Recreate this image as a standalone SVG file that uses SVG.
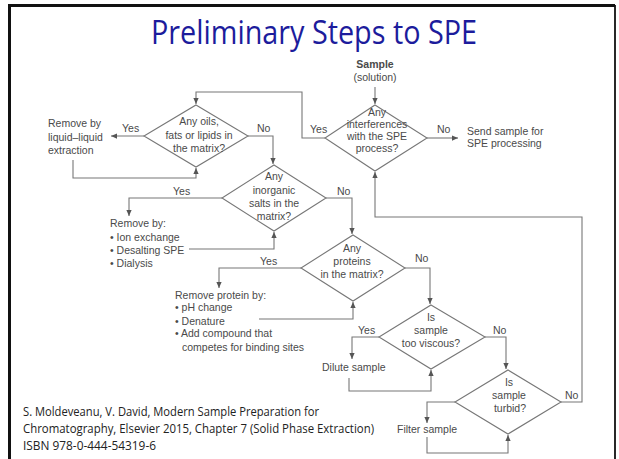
<svg xmlns="http://www.w3.org/2000/svg" width="619" height="459" viewBox="0 0 619 459">
<defs>
<marker id="ah" viewBox="0 0 8 8" refX="8" refY="4" markerWidth="6" markerHeight="6" markerUnits="userSpaceOnUse" orient="auto">
<path d="M0,0.5 L8,4 L0,7.5 z" fill="#555"/>
</marker>
<style>
.d{fill:none;stroke:#777;stroke-width:1.1}
.c{fill:none;stroke:#777;stroke-width:1.1;marker-end:url(#ah)}
.t{font-family:"Liberation Sans",Arial,sans-serif;font-size:10.5px;fill:#4a4a4a}
.m{text-anchor:middle}
.b{font-weight:bold}
.cit{font-family:"Open Sans","Liberation Sans",sans-serif;font-size:12.5px;fill:#222}
</style>
</defs>
<rect width="619" height="459" fill="#fff"/>
<g id="frame" fill="none" stroke="#111">
<path d="M9.5,459 V5.5 H615" stroke-width="3"/>
<path d="M615,5 V459" stroke-width="1.8"/>
</g>
<text id="title" x="314" y="44" text-anchor="middle" font-family="Open Sans, Liberation Sans, sans-serif" font-size="33" fill="#1c1c9c" textLength="326" lengthAdjust="spacingAndGlyphs">Preliminary Steps to SPE</text>

<g id="connectors">
<path class="c" d="M375,87 V104"/>
<path class="c" d="M427,138 H458"/>
<path class="c" d="M325,138 H302 V92 H196 V104"/>
<path class="c" d="M144,136 H111"/>
<path class="c" d="M73,160 V178 H196 V168"/>
<path class="c" d="M248,136 H273 V164"/>
<path class="c" d="M222,198 H129 V216"/>
<path class="c" d="M189,249 H274 V232"/>
<path class="c" d="M326,198 H352 V234"/>
<path class="c" d="M301,268 H219 V288"/>
<path class="c" d="M259,319 H353 V302"/>
<path class="c" d="M405,268 H430 V304"/>
<path class="c" d="M379,337 H352 V359"/>
<path class="c" d="M349,378 V391 H431 V370"/>
<path class="c" d="M485,337 H506 V369"/>
<path class="c" d="M455,402 H427 V423"/>
<path class="c" d="M427,437 V453 H508 V435"/>
<path class="c" d="M561,402 H582 V217 H375 V172"/>
</g>

<g id="sample">
<text class="t m b" x="375" y="68">Sample</text>
<text class="t m" x="375" y="81">(solution)</text>
</g>

<g id="d1">
<polygon class="d" points="375,105 427,138 375,171 325,138"/>
<text class="t m" x="377" y="116">Any</text>
<text class="t m" x="377" y="128">interferences</text>
<text class="t m" x="377" y="140">with the SPE</text>
<text class="t m" x="377" y="152">process?</text>
<text class="t" x="310" y="133">Yes</text>
<text class="t" x="437" y="133">No</text>
</g>

<g id="send">
<text class="t" x="467" y="135">Send sample for</text>
<text class="t" x="467" y="147">SPE processing</text>
</g>

<g id="d2">
<polygon class="d" points="196,105 248,136 196,167 144,136"/>
<text class="t m" x="199" y="125">Any oils,</text>
<text class="t m" x="199" y="139">fats or lipids in</text>
<text class="t m" x="199" y="152">the matrix?</text>
<text class="t" x="122" y="132">Yes</text>
<text class="t" x="257" y="132">No</text>
</g>

<g id="lle">
<text class="t" x="48" y="127">Remove by</text>
<text class="t" x="48" y="141">liquid–liquid</text>
<text class="t" x="48" y="154">extraction</text>
</g>

<g id="d3">
<polygon class="d" points="274,165 326,198 274,231 222,198"/>
<text class="t m" x="274" y="180">Any</text>
<text class="t m" x="274" y="194">inorganic</text>
<text class="t m" x="274" y="207">salts in the</text>
<text class="t m" x="274" y="220">matrix?</text>
<text class="t" x="173" y="195">Yes</text>
<text class="t" x="337" y="195">No</text>
</g>

<g id="salts">
<text class="t" x="110" y="227">Remove by:</text>
<text class="t" x="110" y="241">• Ion exchange</text>
<text class="t" x="110" y="254">• Desalting SPE</text>
<text class="t" x="110" y="267">• Dialysis</text>
</g>

<g id="d4">
<polygon class="d" points="353,235 405,268 353,301 301,268"/>
<text class="t m" x="352" y="252">Any</text>
<text class="t m" x="352" y="265">proteins</text>
<text class="t m" x="352" y="278">in the matrix?</text>
<text class="t" x="260" y="265">Yes</text>
<text class="t" x="415" y="262">No</text>
</g>

<g id="protein">
<text class="t" x="175" y="299">Remove protein by:</text>
<text class="t" x="175" y="311">• pH change</text>
<text class="t" x="175" y="325">• Denature</text>
<text class="t" x="175" y="337">• Add compound that</text>
<text class="t" x="182" y="351">competes for binding sites</text>
</g>

<g id="d5">
<polygon class="d" points="431,305 485,337 431,369 379,337"/>
<text class="t m" x="431" y="321">Is</text>
<text class="t m" x="431" y="334">sample</text>
<text class="t m" x="431" y="347">too viscous?</text>
<text class="t" x="358" y="334">Yes</text>
<text class="t" x="493" y="334">No</text>
</g>

<g id="dilute">
<text class="t" x="322" y="371">Dilute sample</text>
</g>

<g id="d6">
<polygon class="d" points="508,370 561,402 508,434 455,402"/>
<text class="t m" x="509" y="386">Is</text>
<text class="t m" x="509" y="399">sample</text>
<text class="t m" x="510" y="412">turbid?</text>
<text class="t" x="565" y="399">No</text>
</g>

<g id="filter">
<text class="t" x="397" y="433">Filter sample</text>
</g>

<g id="citation">
<text class="cit" x="23" y="416" textLength="296" lengthAdjust="spacingAndGlyphs">S. Moldeveanu, V. David, Modern Sample Preparation for</text>
<text class="cit" x="23" y="433" textLength="351" lengthAdjust="spacingAndGlyphs" style="font-size:11.8px">Chromatography, Elsevier 2015, Chapter 7 (Solid Phase Extraction)</text>
<text class="cit" x="23" y="450" textLength="133" lengthAdjust="spacingAndGlyphs">ISBN 978-0-444-54319-6</text>
</g>
</svg>
